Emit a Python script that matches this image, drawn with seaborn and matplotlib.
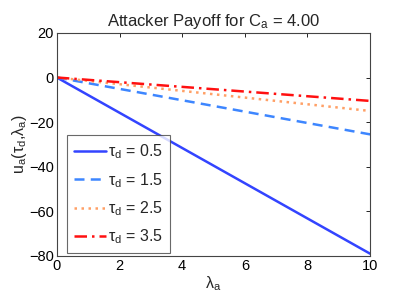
import numpy as np
import pandas as pd
import matplotlib
matplotlib.use("Agg")
import matplotlib.pyplot as plt
import seaborn as sns

# Data
lambda_a = [0, 10]
tau_d = [0.5, 1.5, 2.5, 3.5]
payoff = {
    0.5: [0, -79],
    1.5: [0, -25.5],
    2.5: [0, -15],
    3.5: [0, -10.5],
}
colors = ["#3344ff", "#3d86ff", "#ffa066", "#ff1010"]
styles = ["-", (0, (4, 2.5)), (0, (1, 1.8)), (0, (5, 2, 1, 2))]

sns.set_theme(style="white")
plt.rcParams["font.family"] = ["Liberation Sans", "DejaVu Sans"]
plt.rcParams["mathtext.fontset"] = "custom"
plt.rcParams["mathtext.rm"] = "Liberation Sans"
plt.rcParams["mathtext.it"] = "Liberation Sans"
plt.rcParams["mathtext.bf"] = "Liberation Sans:bold"

fig = plt.figure(figsize=(4.09, 2.99), dpi=100)
ax = fig.add_axes([0.139, 0.144, 0.766, 0.746])

for i, t in enumerate(tau_d):
    df = pd.DataFrame({"x": lambda_a, "y": payoff[t]})
    sns.lineplot(data=df, x="x", y="y", ax=ax, color=colors[i],
                 linestyle=styles[i], linewidth=1.8,
                 label=r"$\tau_{\rm d}$ = %.1f" % t)

ax.set_xlim(0, 10)
ax.set_ylim(-80, 20)
ax.set_xticks([0, 2, 4, 6, 8, 10])
ax.set_yticks([-80, -60, -40, -20, 0, 20])
ax.tick_params(direction="in", top=True, right=True, length=3,
               labelsize=10.5, colors="black", width=0.6, pad=2)
for s in ax.spines.values():
    s.set_color("#444444")
    s.set_linewidth(0.8)
ax.set_xlabel(r"$\lambda_{\rm a}$", fontsize=11.5, labelpad=1)
ax.set_ylabel(r"u$_{\rm a}$($\tau_{\rm d}$,$\lambda_{\rm a}$)", fontsize=11.5, labelpad=0)
ax.set_title(r"Attacker Payoff for C$_{\rm a}$ = 4.00", fontsize=12, pad=5)

leg = ax.legend(loc="lower left", bbox_to_anchor=(0.032, 0.012), fontsize=11.5,
                frameon=True, fancybox=False, handlelength=2.0,
                handletextpad=0.15, borderpad=0.45, labelspacing=0.6,
                borderaxespad=0)
leg.get_frame().set_edgecolor("#444444")
leg.get_frame().set_linewidth(0.8)

fig.savefig("out.png", dpi=100)
